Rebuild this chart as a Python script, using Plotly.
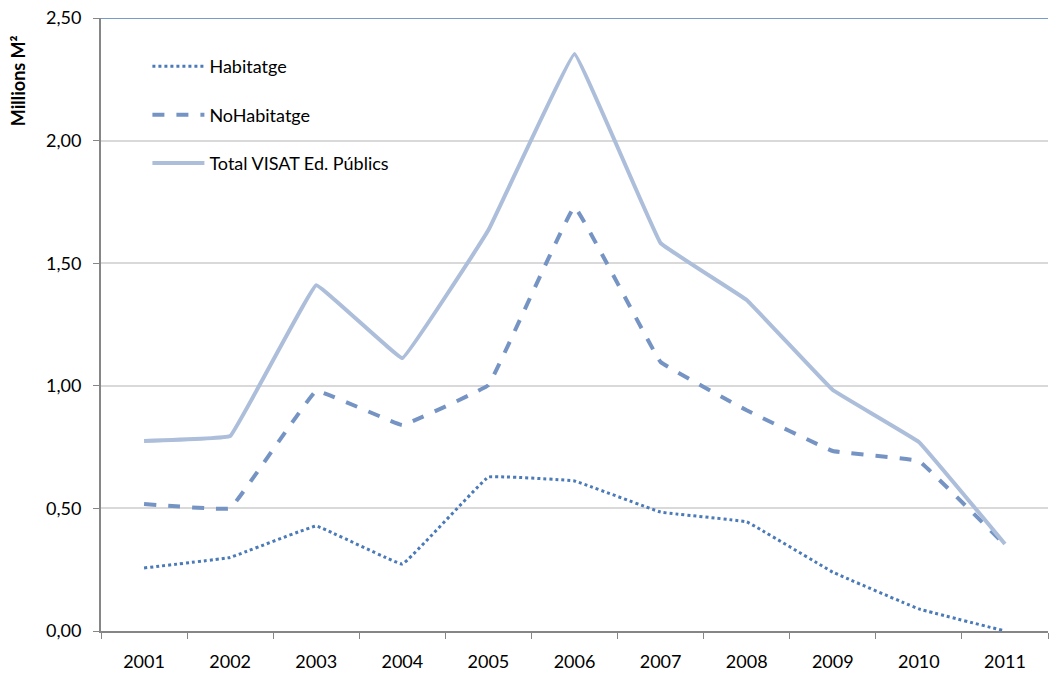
import plotly.graph_objects as go

years = ["2001", "2002", "2003", "2004", "2005", "2006", "2007", "2008", "2009", "2010", "2011"]
habitatge = [0.257, 0.30, 0.428, 0.273, 0.628, 0.612, 0.485, 0.445, 0.24, 0.09, 0.0]
no_habitatge = [0.518, 0.50, 0.979, 0.84, 1.003, 1.729, 1.097, 0.90, 0.734, 0.693, 0.351]
total = [0.775, 0.795, 1.41, 1.113, 1.635, 2.353, 1.582, 1.35, 0.983, 0.771, 0.355]
y_ticks = [0, 0.5, 1.0, 1.5, 2.0, 2.5]
y_tick_text = ["0,00", "0,50", "1,00", "1,50", "2,00", "2,50"]

font_family = "Lato, 'Open Sans', sans-serif"

fig = go.Figure()
fig.add_trace(go.Scatter(x=years, y=habitatge, mode="lines", name="Habitatge",
                         legendgroup="a",
                         line=dict(color="#4a7ab8", width=3, dash="dot", shape="spline", smoothing=0.15)))
fig.add_trace(go.Scatter(x=years, y=no_habitatge, mode="lines", name="NoHabitatge",
                         legendgroup="b",
                         line=dict(color="#7594c4", width=4, dash="dash", shape="spline", smoothing=0.15)))
fig.add_trace(go.Scatter(x=years, y=total, mode="lines", name="Total VISAT Ed. Públics",
                         legendgroup="c",
                         line=dict(color="#adbedb", width=4, shape="spline", smoothing=0.15)))

fig.add_shape(type="line", xref="paper", yref="y", x0=0, x1=1, y0=2.5, y1=2.5,
              line=dict(color="#4a7ab8", width=1.5))

fig.add_annotation(text="<b>Millions M²</b>", xref="paper", yref="paper",
                   x=-0.0876, y=0.897, textangle=-90, showarrow=False,
                   xanchor="center", yanchor="middle", font=dict(size=18))

fig.update_layout(
    width=1051, height=677,
    margin=dict(l=101, r=3, t=18, b=46, autoexpand=False),
    paper_bgcolor="white", plot_bgcolor="white",
    font=dict(family=font_family, size=18, color="#000000"),
    showlegend=True,
    legend=dict(x=0.049, y=0.951, xanchor="left", yanchor="top",
                bgcolor="rgba(0,0,0,0)", tracegroupgap=22, itemwidth=52,
                font=dict(size=18, family=font_family)),
)
fig.update_xaxes(type="category", tickson="boundaries", ticks="outside", ticklen=6,
                 tickcolor="#868686", showline=True, linecolor="#868686", linewidth=2,
                 showgrid=False, tickfont=dict(size=18), range=[-0.5, 10.5],
                 automargin=False, ticklabelstandoff=13)
fig.update_yaxes(range=[0, 2.5], tickvals=y_ticks, ticktext=y_tick_text,
                 ticks="outside", ticklen=6, tickcolor="#868686",
                 showline=True, linecolor="#868686", linewidth=2,
                 showgrid=True, gridcolor="#d9d9d9", gridwidth=1.5,
                 tickfont=dict(size=18), automargin=False, ticklabelstandoff=8,
                 ticklabeloverflow="allow")

fig.write_html("out.html", config={"displayModeBar": False},
               post_script="document.body.style.margin='0';")
